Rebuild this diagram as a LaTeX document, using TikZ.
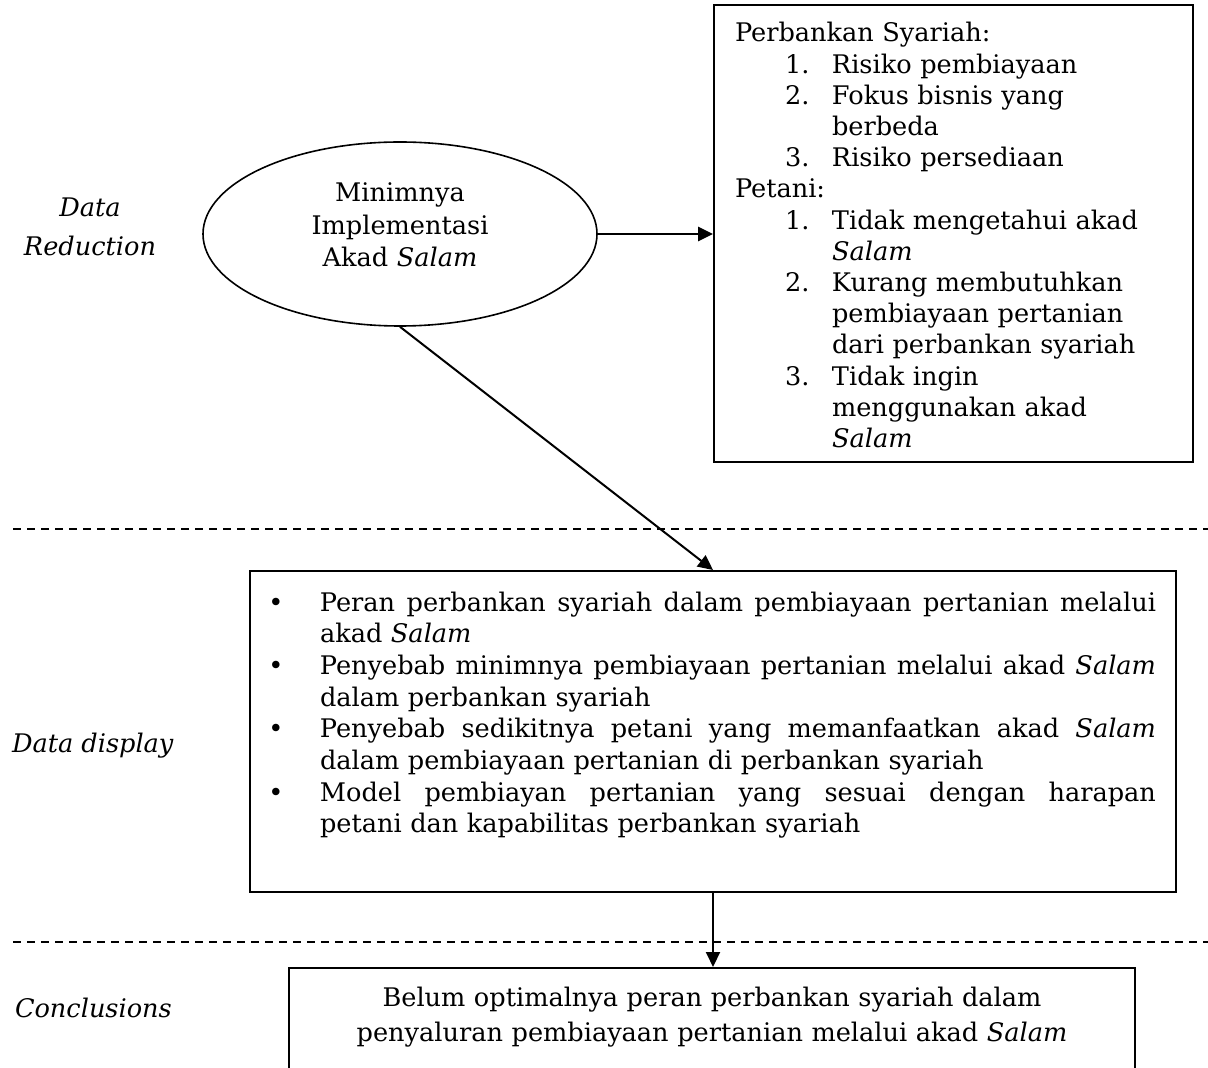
\documentclass[tikz,border=0pt]{standalone}
\usepackage{fontspec}
\setmainfont{DejaVu Serif}
\usetikzlibrary{shapes.geometric,arrows.meta}
\newcommand\itm[2]{\leavevmode\hspace*{25pt}\makebox[23.5pt][l]{#1}#2}
\newcommand\cnt[1]{\leavevmode\hspace*{48.5pt}#1}
\newcommand\bul{\leavevmode\llap{\makebox[0pt][c]{\textbullet}\hspace{22pt}}}
\newcommand\jline[1]{\hbox to 418pt{\spaceskip=0.3em plus 2em minus 0.1em\relax #1}}
\begin{document}
\begin{tikzpicture}[x=0.5pt,y=-0.5pt,
  box/.style={draw, line width=1pt, rectangle, inner sep=0pt},
  oval/.style={draw, line width=0.8pt, ellipse, inner sep=0pt},
  txt/.style={inner sep=0pt, outer sep=0pt, font=\fontsize{12.8}{15.6}\selectfont},
  conn/.style={line width=1pt, -{Triangle[length=7.5pt,width=7pt]}},
  sep/.style={line width=1pt, dash pattern=on 4pt off 3pt}]
\useasboundingbox (0,0) rectangle (1208,1068);
\clip (0,0) rectangle (1208,1068);

% shapes
\node[box, minimum width=239.5pt, minimum height=228.5pt] (R1) at (953.5,233.5) {};
\node[oval, minimum width=197pt, minimum height=92pt] (E) at (400,234) {};
\node[box, minimum width=463pt, minimum height=160.5pt] (D) at (713,731.5) {};
\node[box, minimum width=423pt, minimum height=76pt] (C) at (712,1044) {};

% texts
\node[txt, anchor=base west, text width=225pt, align=left] (r1text) at (735,42) {%
Perbankan Syariah:\\
\itm{1.}{Risiko pembiayaan}\\
\itm{2.}{Fokus bisnis yang}\\
\cnt{berbeda}\\
\itm{3.}{Risiko persediaan}\\
Petani:\\
\itm{1.}{Tidak mengetahui akad}\\
\cnt{\textit{Salam}}\\
\itm{2.}{Kurang membutuhkan}\\
\cnt{pembiayaan pertanian}\\
\cnt{dari perbankan syariah}\\
\itm{3.}{Tidak ingin}\\
\cnt{menggunakan akad}\\
\cnt{\textit{Salam}}};

\node[txt, anchor=base, text width=150pt, align=center,
      font=\fontsize{12.8}{16.25}\selectfont] (etext) at (400,202) {%
Minimnya\\ Implementasi\\ Akad \textit{Salam}};

\node[txt, anchor=base west, text width=418pt, align=left,
      font=\fontsize{12.8}{15.85}\selectfont] (dtext) at (320,611) {%
\bul\jline{Peran perbankan syariah dalam pembiayaan pertanian melalui}\\
akad \textit{Salam}\\
\bul\jline{Penyebab minimnya pembiayaan pertanian melalui akad \textit{Salam}}\\
dalam perbankan syariah\\
\bul\jline{Penyebab sedikitnya petani yang memanfaatkan akad \textit{Salam}}\\
dalam pembiayaan pertanian di perbankan syariah\\
\bul\jline{Model pembiayan pertanian yang sesuai dengan harapan}\\
petani dan kapabilitas perbankan syariah};

\node[txt, anchor=base, text width=420pt, align=center,
      font=\fontsize{12.8}{17.5}\selectfont] (ctext) at (712,1006) {%
Belum optimalnya peran perbankan syariah dalam\\
penyaluran pembiayaan pertanian melalui akad \textit{Salam}};

% side labels
\node[txt, anchor=base, text width=100pt, align=center,
      font=\fontsize{12.8}{19.5}\selectfont\itshape] (lred) at (90,217) {Data\\ Reduction};
\node[txt, anchor=base west, font=\fontsize{12.8}{15.6}\selectfont\itshape] (ldisp) at (12,752) {Data display};
\node[txt, anchor=base west, font=\fontsize{12.8}{15.6}\selectfont\itshape] (lconc) at (15,1017) {Conclusions};

% separators
\coordinate (s1a) at (13,529); \coordinate (s1b) at (1210,529);
\coordinate (s2a) at (13,942); \coordinate (s2b) at (1210,942);
\draw[sep] (s1a) -- (s1b);
\draw[sep] (s2a) -- (s2b);

% connectors
\draw[conn, line width=1.3pt] (E.east) -- (E.east -| R1.west);
\draw[conn] (E.south) -- (D.north);
\draw[conn] (D.south) -- (D.south |- C.north);
\end{tikzpicture}
\end{document}
